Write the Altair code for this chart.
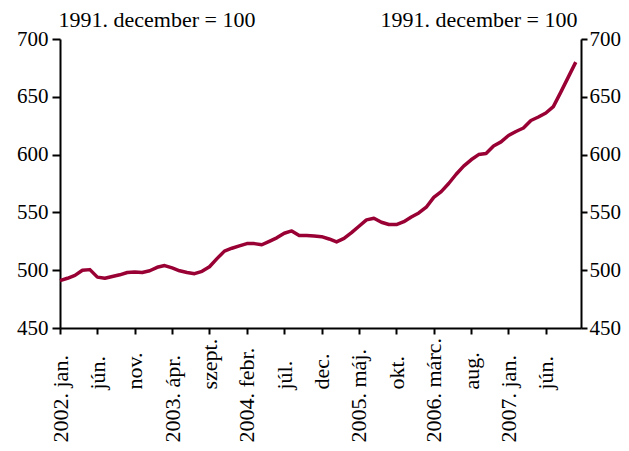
import altair as alt
import pandas as pd

# Monthly index values, 2002 jan. .. 2007 okt. (1991. december = 100)
values = [
    491, 493, 495.5, 500, 500.5, 494, 493, 494.5, 496, 498, 498.5, 498,
    499.5, 502.5, 504, 502, 499.5, 498, 497, 499, 503, 510, 516.5, 519,
    521, 523, 523, 522, 525, 528, 532, 534, 530, 530, 529.5, 529,
    527, 524.5, 527.5, 532.5, 538, 543.5, 545, 541.5, 539.5, 539.5, 542, 546,
    549.5, 554.5, 563, 568, 575, 583, 590, 595.5, 600, 601, 607.5, 611,
    616.5, 620, 623, 629.5, 632.5, 636, 641.5, 654, 667, 680,
]
months = list(range(len(values)))

tick_pos = [0, 5, 10, 15, 20, 25, 30, 35, 40, 45, 50, 55, 60, 65]
tick_year = ["2002.", "", "", "2003.", "", "2004.", "", "", "2005.", "", "2006.", "", "2007.", ""]
tick_month = ["jan.", "jún.", "nov.", "ápr.", "szept.", "febr.", "júl.", "dec.", "máj.", "okt.", "márc.", "aug.", "jan.", "jún."]
y_ticks = [450, 500, 550, 600, 650, 700]
unit_label = "1991. december = 100"

tick_labels = [(y + " " + m) if y else m for y, m in zip(tick_year, tick_month)]
year_pos = [p for p, y in zip(tick_pos, tick_year) if y]
label_expr = "[" + ",".join("'" + t + "'" for t in tick_labels) + "][indexof(" + str(tick_pos) + ", datum.value)]"

df = pd.DataFrame({"month": months, "value": values})

FONT = "Liberation Serif"
FS = 22
COLOR = "#990033"

x_enc = alt.X(
    "month:Q",
    scale=alt.Scale(domain=[0, 69.7], nice=False, zero=False),
    axis=alt.Axis(
        values=tick_pos, labelExpr=label_expr, title=None, grid=False,
        labelAngle=-90, labelAlign="left", labelBaseline="middle",
        labelPadding={"condition": {"test": "indexof(" + str(year_pos) + ", datum.value) >= 0", "value": 108}, "value": 55},
        labelFlush=False, labelOverlap=False, labelBound=False,
        tickSize=6, tickWidth=2, domainWidth=2, domainColor="black", tickColor="black",
        labelFont=FONT, labelFontSize=FS, labelColor="black",
    ),
)

def y_axis(orient, tx, talign, tick, lpad):
    return alt.Axis(
        orient=orient, values=y_ticks, grid=False, title=unit_label,
        titleAngle=0, titleX=tx, titleY=-13, titleAlign=talign, titleBaseline="alphabetic",
        titleFont=FONT, titleFontSize=FS, titleFontWeight="normal", titleColor="black",
        tickSize=tick, tickWidth=2, domainWidth=2, domainColor="black", tickColor="black",
        labelFont=FONT, labelFontSize=21, labelColor="black", labelPadding=lpad,
        labelFlush=False,
    )

yscale = alt.Scale(domain=[450, 700], nice=False, zero=False)

line = alt.Chart(df).mark_line(color=COLOR, strokeWidth=3.5, strokeJoin="round").encode(
    x=x_enc,
    y=alt.Y("value:Q", scale=yscale, axis=y_axis("left", -2, "left", 8, 4)),
)

ghost = alt.Chart(df).mark_line(opacity=0).encode(
    x=x_enc,
    y=alt.Y("value:Q", scale=yscale, axis=y_axis("right", -4, "right", 6, 2)),
)

chart = alt.layer(line, ghost).resolve_scale(y="independent").resolve_axis(y="independent").properties(
    width=521, height=289,
    autosize=alt.AutoSizeParams(type="none"),
    padding={"left": 52, "top": 31, "right": 40, "bottom": 115},
    background="white",
).configure_view(stroke=None)

chart.save("out.html", embed_options={"renderer": "svg", "actions": False})
